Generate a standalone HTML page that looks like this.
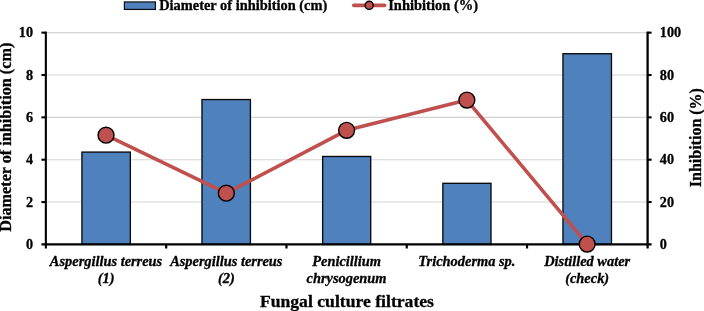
<!DOCTYPE html>
<html><head><meta charset="utf-8"><title>Chart</title>
<style>
html,body{margin:0;padding:0;background:#fff;overflow:hidden}
svg{display:block}
text{font-family:"Liberation Serif","Times New Roman",serif;font-weight:bold;fill:#000;stroke:#000;stroke-width:0.3px;stroke-linejoin:round}
.it{font-style:italic}
</style></head><body>
<svg width="704" height="311" viewBox="0 0 704 311">
<rect width="704" height="311" fill="#fff"/>
<line x1="45.85" x2="647.6" y1="202.05" y2="202.05" stroke="#d4d4d4" stroke-width="1.1"/>
<line x1="45.85" x2="647.6" y1="159.70" y2="159.70" stroke="#d4d4d4" stroke-width="1.1"/>
<line x1="45.85" x2="647.6" y1="117.35" y2="117.35" stroke="#d4d4d4" stroke-width="1.1"/>
<line x1="45.85" x2="647.6" y1="75.00" y2="75.00" stroke="#d4d4d4" stroke-width="1.1"/>
<line x1="45.85" x2="647.6" y1="32.65" y2="32.65" stroke="#d4d4d4" stroke-width="1.1"/>
<rect x="81.94" y="152.08" width="48.40" height="92.32" fill="#4f81bd" stroke="#0a0a0a" stroke-width="1.35"/>
<rect x="201.97" y="99.56" width="48.45" height="144.84" fill="#4f81bd" stroke="#0a0a0a" stroke-width="1.35"/>
<rect x="322.65" y="156.48" width="48.05" height="87.92" fill="#4f81bd" stroke="#0a0a0a" stroke-width="1.35"/>
<rect x="442.85" y="183.31" width="48.15" height="61.09" fill="#4f81bd" stroke="#0a0a0a" stroke-width="1.35"/>
<rect x="562.96" y="53.72" width="48.50" height="190.68" fill="#4f81bd" stroke="#0a0a0a" stroke-width="1.35"/>
<g stroke="#000" fill="none">
<line x1="45.85" x2="45.85" y1="31.60" y2="248.50" stroke-width="2.1"/>
<line x1="647.6" x2="647.6" y1="31.60" y2="248.50" stroke-width="2.3"/>
<line x1="41.45" x2="651.60" y1="244.4" y2="244.4" stroke-width="2.2"/>
<line x1="41.45" x2="45.85" y1="202.05" y2="202.05" stroke-width="2.1"/>
<line x1="647.6" x2="651.60" y1="202.05" y2="202.05" stroke-width="2.1"/>
<line x1="41.45" x2="45.85" y1="159.70" y2="159.70" stroke-width="2.1"/>
<line x1="647.6" x2="651.60" y1="159.70" y2="159.70" stroke-width="2.1"/>
<line x1="41.45" x2="45.85" y1="117.35" y2="117.35" stroke-width="2.1"/>
<line x1="647.6" x2="651.60" y1="117.35" y2="117.35" stroke-width="2.1"/>
<line x1="41.45" x2="45.85" y1="75.00" y2="75.00" stroke-width="2.1"/>
<line x1="647.6" x2="651.60" y1="75.00" y2="75.00" stroke-width="2.1"/>
<line x1="41.45" x2="45.85" y1="32.65" y2="32.65" stroke-width="2.1"/>
<line x1="647.6" x2="651.60" y1="32.65" y2="32.65" stroke-width="2.1"/>
<line x1="166.18" x2="166.18" y1="244.4" y2="248.50" stroke-width="2.2"/>
<line x1="286.46" x2="286.46" y1="244.4" y2="248.50" stroke-width="2.2"/>
<line x1="406.74" x2="406.74" y1="244.4" y2="248.50" stroke-width="2.2"/>
<line x1="527.02" x2="527.02" y1="244.4" y2="248.50" stroke-width="2.2"/>
</g>
<polyline points="106.04,135.14 226.32,193.16 346.60,130.37 466.88,100.09 587.16,244.08" fill="none" stroke="#c0504d" stroke-width="3.6" stroke-linejoin="round" stroke-linecap="round"/>
<circle cx="106.04" cy="135.14" r="7.95" fill="#c0504d" stroke="#000" stroke-width="1.4"/>
<circle cx="226.32" cy="193.16" r="7.95" fill="#c0504d" stroke="#000" stroke-width="1.4"/>
<circle cx="346.60" cy="130.37" r="7.95" fill="#c0504d" stroke="#000" stroke-width="1.4"/>
<circle cx="466.88" cy="100.09" r="7.95" fill="#c0504d" stroke="#000" stroke-width="1.4"/>
<circle cx="587.16" cy="244.08" r="7.95" fill="#c0504d" stroke="#000" stroke-width="1.4"/>
<text x="33.0" y="249.05" font-size="14.2" text-anchor="end">0</text>
<text x="659.8" y="249.05" font-size="14.2">0</text>
<text x="33.0" y="206.70" font-size="14.2" text-anchor="end">2</text>
<text x="659.8" y="206.70" font-size="14.2">20</text>
<text x="33.0" y="164.35" font-size="14.2" text-anchor="end">4</text>
<text x="659.8" y="164.35" font-size="14.2">40</text>
<text x="33.0" y="122.00" font-size="14.2" text-anchor="end">6</text>
<text x="659.8" y="122.00" font-size="14.2">60</text>
<text x="33.0" y="79.65" font-size="14.2" text-anchor="end">8</text>
<text x="659.8" y="79.65" font-size="14.2">80</text>
<text x="33.0" y="37.30" font-size="14.2" text-anchor="end">10</text>
<text x="659.8" y="37.30" font-size="14.2">100</text>
<text class="it" x="106.04" y="265.7" font-size="14.4" text-anchor="middle">Aspergillus terreus</text>
<text class="it" x="106.04" y="282.6" font-size="14.4" text-anchor="middle">(1)</text>
<text class="it" x="226.32" y="265.7" font-size="14.4" text-anchor="middle">Aspergillus terreus</text>
<text class="it" x="226.32" y="282.6" font-size="14.4" text-anchor="middle">(2)</text>
<text class="it" x="346.60" y="265.7" font-size="14.4" text-anchor="middle">Penicillium</text>
<text class="it" x="346.60" y="282.6" font-size="14.4" text-anchor="middle">chrysogenum</text>
<text class="it" x="466.88" y="265.7" font-size="14.4" text-anchor="middle">Trichoderma sp.</text>
<text class="it" x="587.16" y="265.7" font-size="14.4" text-anchor="middle">Distilled water</text>
<text class="it" x="587.16" y="282.6" font-size="14.4" text-anchor="middle">(check)</text>
<text x="259.9" y="306.6" font-size="17.65">Fungal culture filtrates</text>
<text transform="translate(10.9,231.7) rotate(-90)" font-size="16.2">Diameter of inhibition (cm)</text>
<text transform="translate(701.2,187.2) rotate(-90)" font-size="16">Inhibition (%)</text>
<rect x="124.4" y="1.95" width="31" height="7.5" fill="#4f81bd" stroke="#0c0c0c" stroke-width="1.2"/>
<text x="159.2" y="9.8" font-size="14.4">Diameter of inhibition (cm)</text>
<line x1="353.8" x2="384.6" y1="5.4" y2="5.4" stroke="#c0504d" stroke-width="3.6" stroke-linecap="round"/>
<circle cx="369.2" cy="5.35" r="4.05" fill="#c0504d" stroke="#000" stroke-width="1.4"/>
<text x="388.2" y="9.8" font-size="14.5">Inhibition (%)</text>
</svg></body></html>
